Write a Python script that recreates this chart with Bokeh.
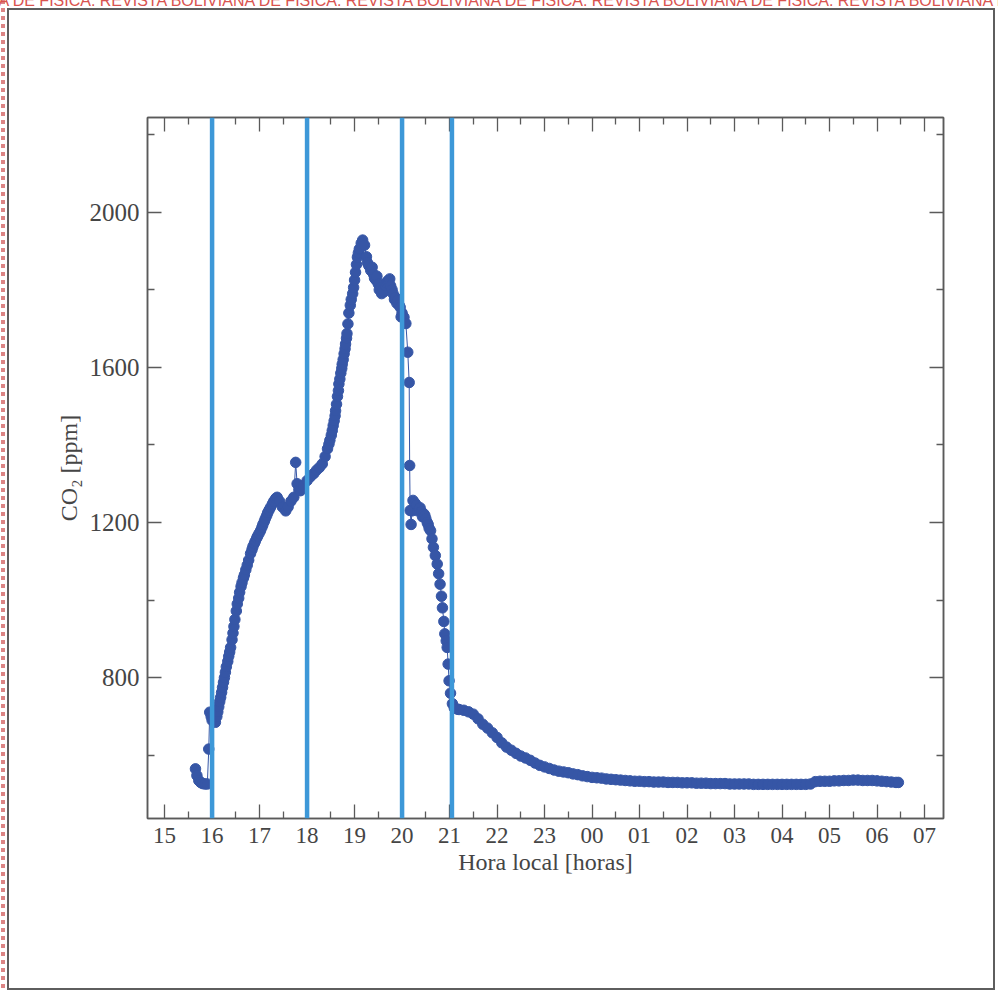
from bokeh.plotting import figure
from bokeh.models import FixedTicker, LinearAxis, Span, Range1d, InlineStyleSheet
from bokeh.embed import file_html
from bokeh.resources import INLINE

# ---- data (hours continue past 24 into the next morning) ----
EVENING_HOURS = [
    15.65, 15.68, 15.72, 15.76, 15.80, 15.85, 15.90, 15.93, 15.95, 15.98,
    16.00, 16.03, 16.07, 16.10, 16.12, 16.14, 16.16, 16.18, 16.20, 16.22,
    16.24, 16.26, 16.28, 16.30, 16.33, 16.35, 16.37, 16.39, 16.42, 16.44,
    16.46, 16.48, 16.51, 16.53, 16.56, 16.58, 16.61, 16.63, 16.66, 16.68,
    16.71, 16.74, 16.77, 16.81, 16.84, 16.86, 16.89, 16.91, 16.94, 16.96,
    16.99, 17.02, 17.05, 17.07, 17.10, 17.12, 17.15, 17.17, 17.20, 17.23,
    17.27, 17.30, 17.34, 17.37, 17.42, 17.48, 17.55, 17.60, 17.66, 17.72,
    17.76, 17.79, 17.83, 17.86, 17.92, 18.00, 18.07, 18.14, 18.20, 18.26,
    18.32, 18.38, 18.43, 18.46, 18.48, 18.51, 18.53, 18.55, 18.57, 18.59,
    18.60, 18.62, 18.64, 18.66, 18.67, 18.69, 18.71, 18.73, 18.74, 18.76,
    18.78, 18.80, 18.81, 18.83, 18.84, 18.86, 18.88, 18.91, 18.93, 18.96,
    18.98, 19.00, 19.02, 19.04, 19.06, 19.08, 19.10, 19.14, 19.17, 19.21,
    19.25, 19.27, 19.30, 19.34, 19.37, 19.40, 19.42, 19.45, 19.47, 19.50,
    19.52, 19.55, 19.57, 19.60, 19.62, 19.65, 19.67, 19.69, 19.72, 19.74,
    19.76, 19.79, 19.81, 19.84, 19.86, 19.89, 19.91, 19.94, 19.96, 19.98,
    20.00, 20.04, 20.08, 20.12, 20.15, 20.16, 20.17, 20.19, 20.21, 20.23,
    20.27, 20.30, 20.33, 20.36, 20.38, 20.41, 20.43, 20.46, 20.48, 20.50,
    20.53, 20.55, 20.57, 20.60, 20.63, 20.66, 20.70, 20.74, 20.77, 20.80,
    20.83, 20.85, 20.88, 20.90, 20.93, 20.95, 20.97, 20.99, 21.02, 21.06,
    21.10, 21.16,
]
EVENING_CO2 = [
    565, 548, 535, 530, 527, 526, 526, 616, 711, 700,
    690, 705, 685, 700, 712, 725, 738, 749, 762, 775,
    788, 800, 814, 828, 842, 855, 866, 878, 898, 915,
    932, 950, 972, 990, 1005, 1020, 1035, 1045, 1057, 1065,
    1078, 1090, 1103, 1120, 1130, 1138, 1146, 1152, 1160, 1165,
    1172, 1179, 1188, 1195, 1203, 1210, 1218, 1225, 1232, 1239,
    1248, 1255, 1262, 1265, 1255, 1240, 1230, 1240, 1255, 1265,
    1355, 1300, 1285, 1282, 1295, 1308, 1318, 1326, 1335, 1342,
    1351, 1370, 1390, 1402, 1412, 1425, 1437, 1450, 1462, 1475,
    1488, 1505, 1525, 1540, 1557, 1570, 1585, 1597, 1608, 1620,
    1635, 1648, 1660, 1675, 1687, 1712, 1740, 1760, 1775, 1790,
    1806, 1825, 1845, 1865, 1884, 1895, 1905, 1920, 1928, 1915,
    1885, 1870, 1862, 1850, 1858, 1840, 1830, 1825, 1835, 1815,
    1800, 1806, 1790, 1800, 1795, 1810, 1818, 1822, 1824, 1828,
    1810, 1800, 1790, 1775, 1780, 1765, 1773, 1760, 1755, 1730,
    1740, 1729, 1713, 1639, 1561, 1347, 1231, 1195, 1230, 1257,
    1250, 1245, 1230, 1235, 1238, 1228, 1215, 1222, 1218, 1210,
    1200, 1195, 1185, 1179, 1158, 1136, 1115, 1093, 1068, 1041,
    1010, 980, 945, 913, 895, 878, 835, 792, 760, 733,
    722, 719,
]
NIGHT_HOURS = [
    21.2, 21.3, 21.4, 21.5, 21.6, 21.7, 21.8, 21.9, 22.0, 22.1,
    22.2, 22.3, 22.4, 22.5, 22.6, 22.7, 22.8, 22.9, 23.0, 23.1,
    23.2, 23.3, 23.4, 23.5, 23.6, 23.7, 23.8, 23.9, 24.0, 24.1,
    24.2, 24.3, 24.4, 24.5, 24.6, 24.7, 24.8, 24.9, 25.0, 25.1,
    25.2, 25.3, 25.4, 25.5, 25.6, 25.7, 25.8, 25.9, 26.0, 26.1,
    26.2, 26.3, 26.4, 26.5, 26.6, 26.7, 26.8, 26.9, 27.0, 27.1,
    27.2, 27.3, 27.4, 27.5, 27.6, 27.7, 27.8, 27.9, 28.0, 28.1,
    28.2, 28.3, 28.4, 28.5, 28.6, 28.7, 28.8, 28.9, 29.0, 29.1,
    29.2, 29.3, 29.4, 29.5, 29.6, 29.7, 29.8, 29.9, 30.0, 30.1,
    30.2, 30.3, 30.4, 30.45,
]
NIGHT_CO2 = [
    718, 716, 712, 706, 694, 680, 670, 658, 646, 632,
    621, 613, 605, 598, 593, 587, 580, 574, 570, 566,
    562, 559, 557, 555, 552, 550, 547, 545, 543, 542,
    541, 539, 538, 537, 536, 535, 534, 533, 533, 532,
    532, 531, 531, 531, 530, 530, 530, 529, 529, 529,
    528, 528, 528, 527, 527, 527, 527, 526, 526, 526,
    526, 526, 525, 525, 525, 525, 525, 525, 525, 525,
    525, 525, 525, 525, 526, 532, 533, 533, 533, 534,
    534, 535, 535, 536, 536, 535, 535, 535, 534, 533,
    532, 531, 530, 530,
]
EVENT_HOURS = [16, 18, 20, 21.05]

X_TICKS = list(range(15, 32))
X_TICK_LABELS = ["15", "16", "17", "18", "19", "20", "21", "22", "23",
                 "00", "01", "02", "03", "04", "05", "06", "07"]
X_MINOR = [t + 0.5 for t in range(15, 31)]
Y_TICKS = [400, 800, 1200, 1600, 2000, 2400]
Y_MINOR = [600, 1000, 1400, 1800, 2200]

X_TITLE = "Hora local [horas]"
Y_TITLE = "CO\u2082 [ppm]"
BANNER = ("IA DE FISICA. REVISTA BOLIVIANA DE FISICA. REVISTA BOLIVIANA DE FISICA. "
          "REVISTA BOLIVIANA DE FISICA. REVISTA BOLIVIANA DE FISICA")

HOURS = EVENING_HOURS + NIGHT_HOURS
CO2 = EVENING_CO2 + NIGHT_CO2

# ---- styles ----
FONT = "Liberation Serif"
TXT = "#454545"
AX = "#5a5a5a"
DOT = "#3656a6"
EVT = "#3d98d8"

page_css = InlineStyleSheet(css="""
:host {
  background-color: #ffffff;
  background-image: repeating-linear-gradient(to bottom, #dc8585 0px, #dc8585 4px,
                    rgba(255,255,255,0) 4px, rgba(255,255,255,0) 8px);
  background-size: 4px 100%%;
  background-position: 1px 0px;
  background-repeat: no-repeat;
}
:host::before {
  content: "%s";
  position: absolute; top: -8px; left: -6px; width: 1004px;
  white-space: nowrap; overflow: hidden;
  font: 16px 'Liberation Sans', sans-serif; color: #d9534f; z-index: 20;
}
:host::after {
  content: ""; position: absolute; left: 7px; top: 8px; width: 988px; height: 982px;
  box-sizing: border-box; border: 2px solid #5e5e5e; pointer-events: none; z-index: 21;
}
""" % BANNER)

p = figure(width=998, height=992,
           x_range=Range1d(14.64, 31.40), y_range=Range1d(437, 2244),
           output_backend="svg", toolbar_location=None,
           min_border_left=147, min_border_right=55,
           min_border_top=117, min_border_bottom=174,
           x_axis_location=None, y_axis_location=None,
           stylesheets=[page_css])
p.grid.visible = False
p.background_fill_color = "white"
p.border_fill_color = None
p.outline_line_color = AX
p.outline_line_width = 1.5

xt = FixedTicker(ticks=X_TICKS, minor_ticks=X_MINOR)
yt = FixedTicker(ticks=Y_TICKS, minor_ticks=Y_MINOR)
overrides = {t: lab for t, lab in zip(X_TICKS, X_TICK_LABELS)}


def style(ax, label_size="23px", labels=True):
    ax.axis_line_color = AX
    ax.axis_line_width = 1.5
    ax.major_tick_line_color = AX
    ax.minor_tick_line_color = AX
    ax.major_tick_line_width = 1.3
    ax.minor_tick_line_width = 1.3
    ax.major_tick_in = 14
    ax.major_tick_out = 0
    ax.minor_tick_in = 7
    ax.minor_tick_out = 0
    ax.major_label_text_font = FONT
    ax.major_label_text_font_size = label_size
    ax.major_label_text_color = TXT
    ax.axis_label_text_font = FONT
    ax.axis_label_text_font_size = "24px"
    ax.axis_label_text_color = TXT
    ax.axis_label_text_font_style = "normal"
    if not labels:
        ax.major_label_text_font_size = "0px"
        ax.major_label_text_alpha = 0


xb = LinearAxis(ticker=xt, axis_label=X_TITLE)
xb.major_label_overrides = overrides
style(xb, "23px")
xb.major_label_standoff = 9
xb.axis_label_standoff = 3
p.add_layout(xb, "below")

xa = LinearAxis(ticker=xt)
style(xa, labels=False)
p.add_layout(xa, "above")

yl = LinearAxis(ticker=yt, axis_label=Y_TITLE)
style(yl, "25px")
yl.major_label_standoff = 8
yl.axis_label_standoff = 5
p.add_layout(yl, "left")

yr = LinearAxis(ticker=yt)
style(yr, labels=False)
p.add_layout(yr, "right")

# data: thin connecting line plus filled dots
p.line(HOURS, CO2, line_color=DOT, line_width=1)
p.scatter(HOURS, CO2, size=10.5, fill_color=DOT, line_color=DOT)

# event lines
for h in EVENT_HOURS:
    p.add_layout(Span(location=h, dimension="height", line_color=EVT, line_width=4.5))

open("out.html", "w").write(file_html(p, INLINE))
